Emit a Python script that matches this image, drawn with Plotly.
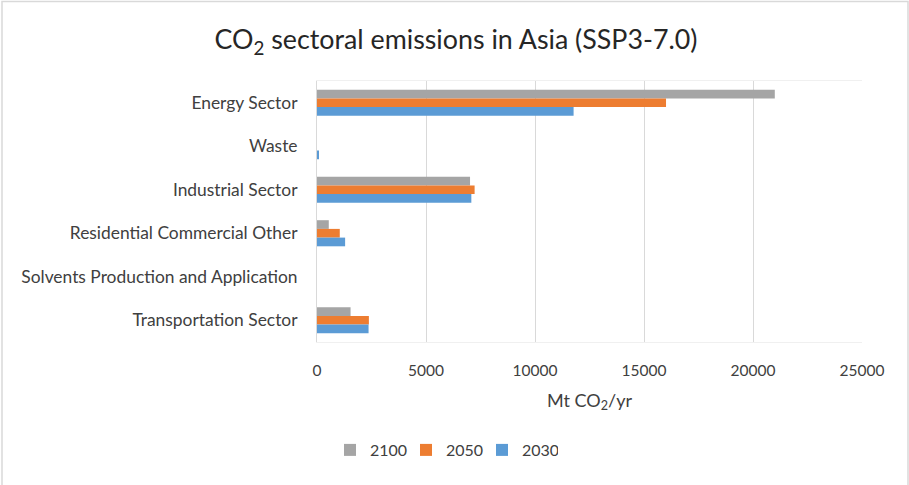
import plotly.graph_objects as go

sectors = [
    "Energy Sector",
    "Waste",
    "Industrial Sector",
    "Residential Commercial Other",
    "Solvents Production and Application",
    "Transportation Sector",
]
emissions_2100 = [21000, 0, 7020, 540, 0, 1540]
emissions_2050 = [16010, 0, 7230, 1045, 0, 2380]
emissions_2030 = [11770, 70, 7080, 1290, 0, 2365]

series = [
    ("2100", emissions_2100, "#a5a5a5"),
    ("2050", emissions_2050, "#ed7d31"),
    ("2030", emissions_2030, "#5b9bd5"),
]

W, H = 909, 485
ml, mr, mt, mb = 317, 47, 81, 143
pw, ph = W - ml - mr, H - mt - mb

fig = go.Figure()
for name, vals, color in series:
    fig.add_trace(go.Bar(
        y=sectors, x=vals, name=name, orientation="h",
        marker=dict(color=color, line=dict(width=0)),
    ))

font_family = "Lato, 'Open Sans', sans-serif"
text_color = "#404040"


def px(x):
    return (x - ml) / pw


def py(y):
    return (H - mb - y) / ph


fig.update_layout(
    width=W, height=H,
    margin=dict(l=ml, r=mr, t=mt, b=mb),
    paper_bgcolor="white", plot_bgcolor="white",
    barmode="group", bargap=0.4, bargroupgap=0,
    font=dict(family=font_family, size=16, color=text_color),
    title=dict(
        text="CO<sub>2</sub> sectoral emissions in Asia (SSP3-7.0)",
        x=px(456), xref="paper", xanchor="center",
        y=1 - 40 / H, yref="container", yanchor="middle",
        font=dict(size=26.8, color="#262626"),
    ),
    xaxis=dict(
        range=[0, 25000], dtick=5000, tickformat="d",
        showgrid=True, gridcolor="#d9d9d9", gridwidth=1,
        zeroline=False, showline=True, linecolor="#f0f0f0", mirror=True,
        ticks="", ticklabelstandoff=14,
        tickfont=dict(size=15.5, color=text_color),
        title=dict(text="Mt CO<sub>2</sub>/yr", standoff=16,
                   font=dict(size=18, color=text_color)),
    ),
    yaxis=dict(
        autorange="reversed", showgrid=False, zeroline=False,
        showline=True, linecolor="#d9d9d9", linewidth=1,
        ticks="", ticklabelstandoff=15,
        tickfont=dict(size=17.4, color=text_color),
    ),
    legend=dict(
        orientation="h", x=px(444), xanchor="center",
        y=py(450), yanchor="middle",
        font=dict(size=16, color=text_color),
        traceorder="normal",
        entrywidth=31, entrywidthmode="pixels",
        itemwidth=30,
    ),
    shapes=[dict(
        type="rect", xref="paper", yref="paper",
        x0=px(2), x1=px(908), y0=py(487), y1=py(1.5),
        line=dict(color="#d9d9d9", width=1.5), fillcolor="rgba(0,0,0,0)",
        layer="below",
    )],
)

fig.write_html("out.html")
